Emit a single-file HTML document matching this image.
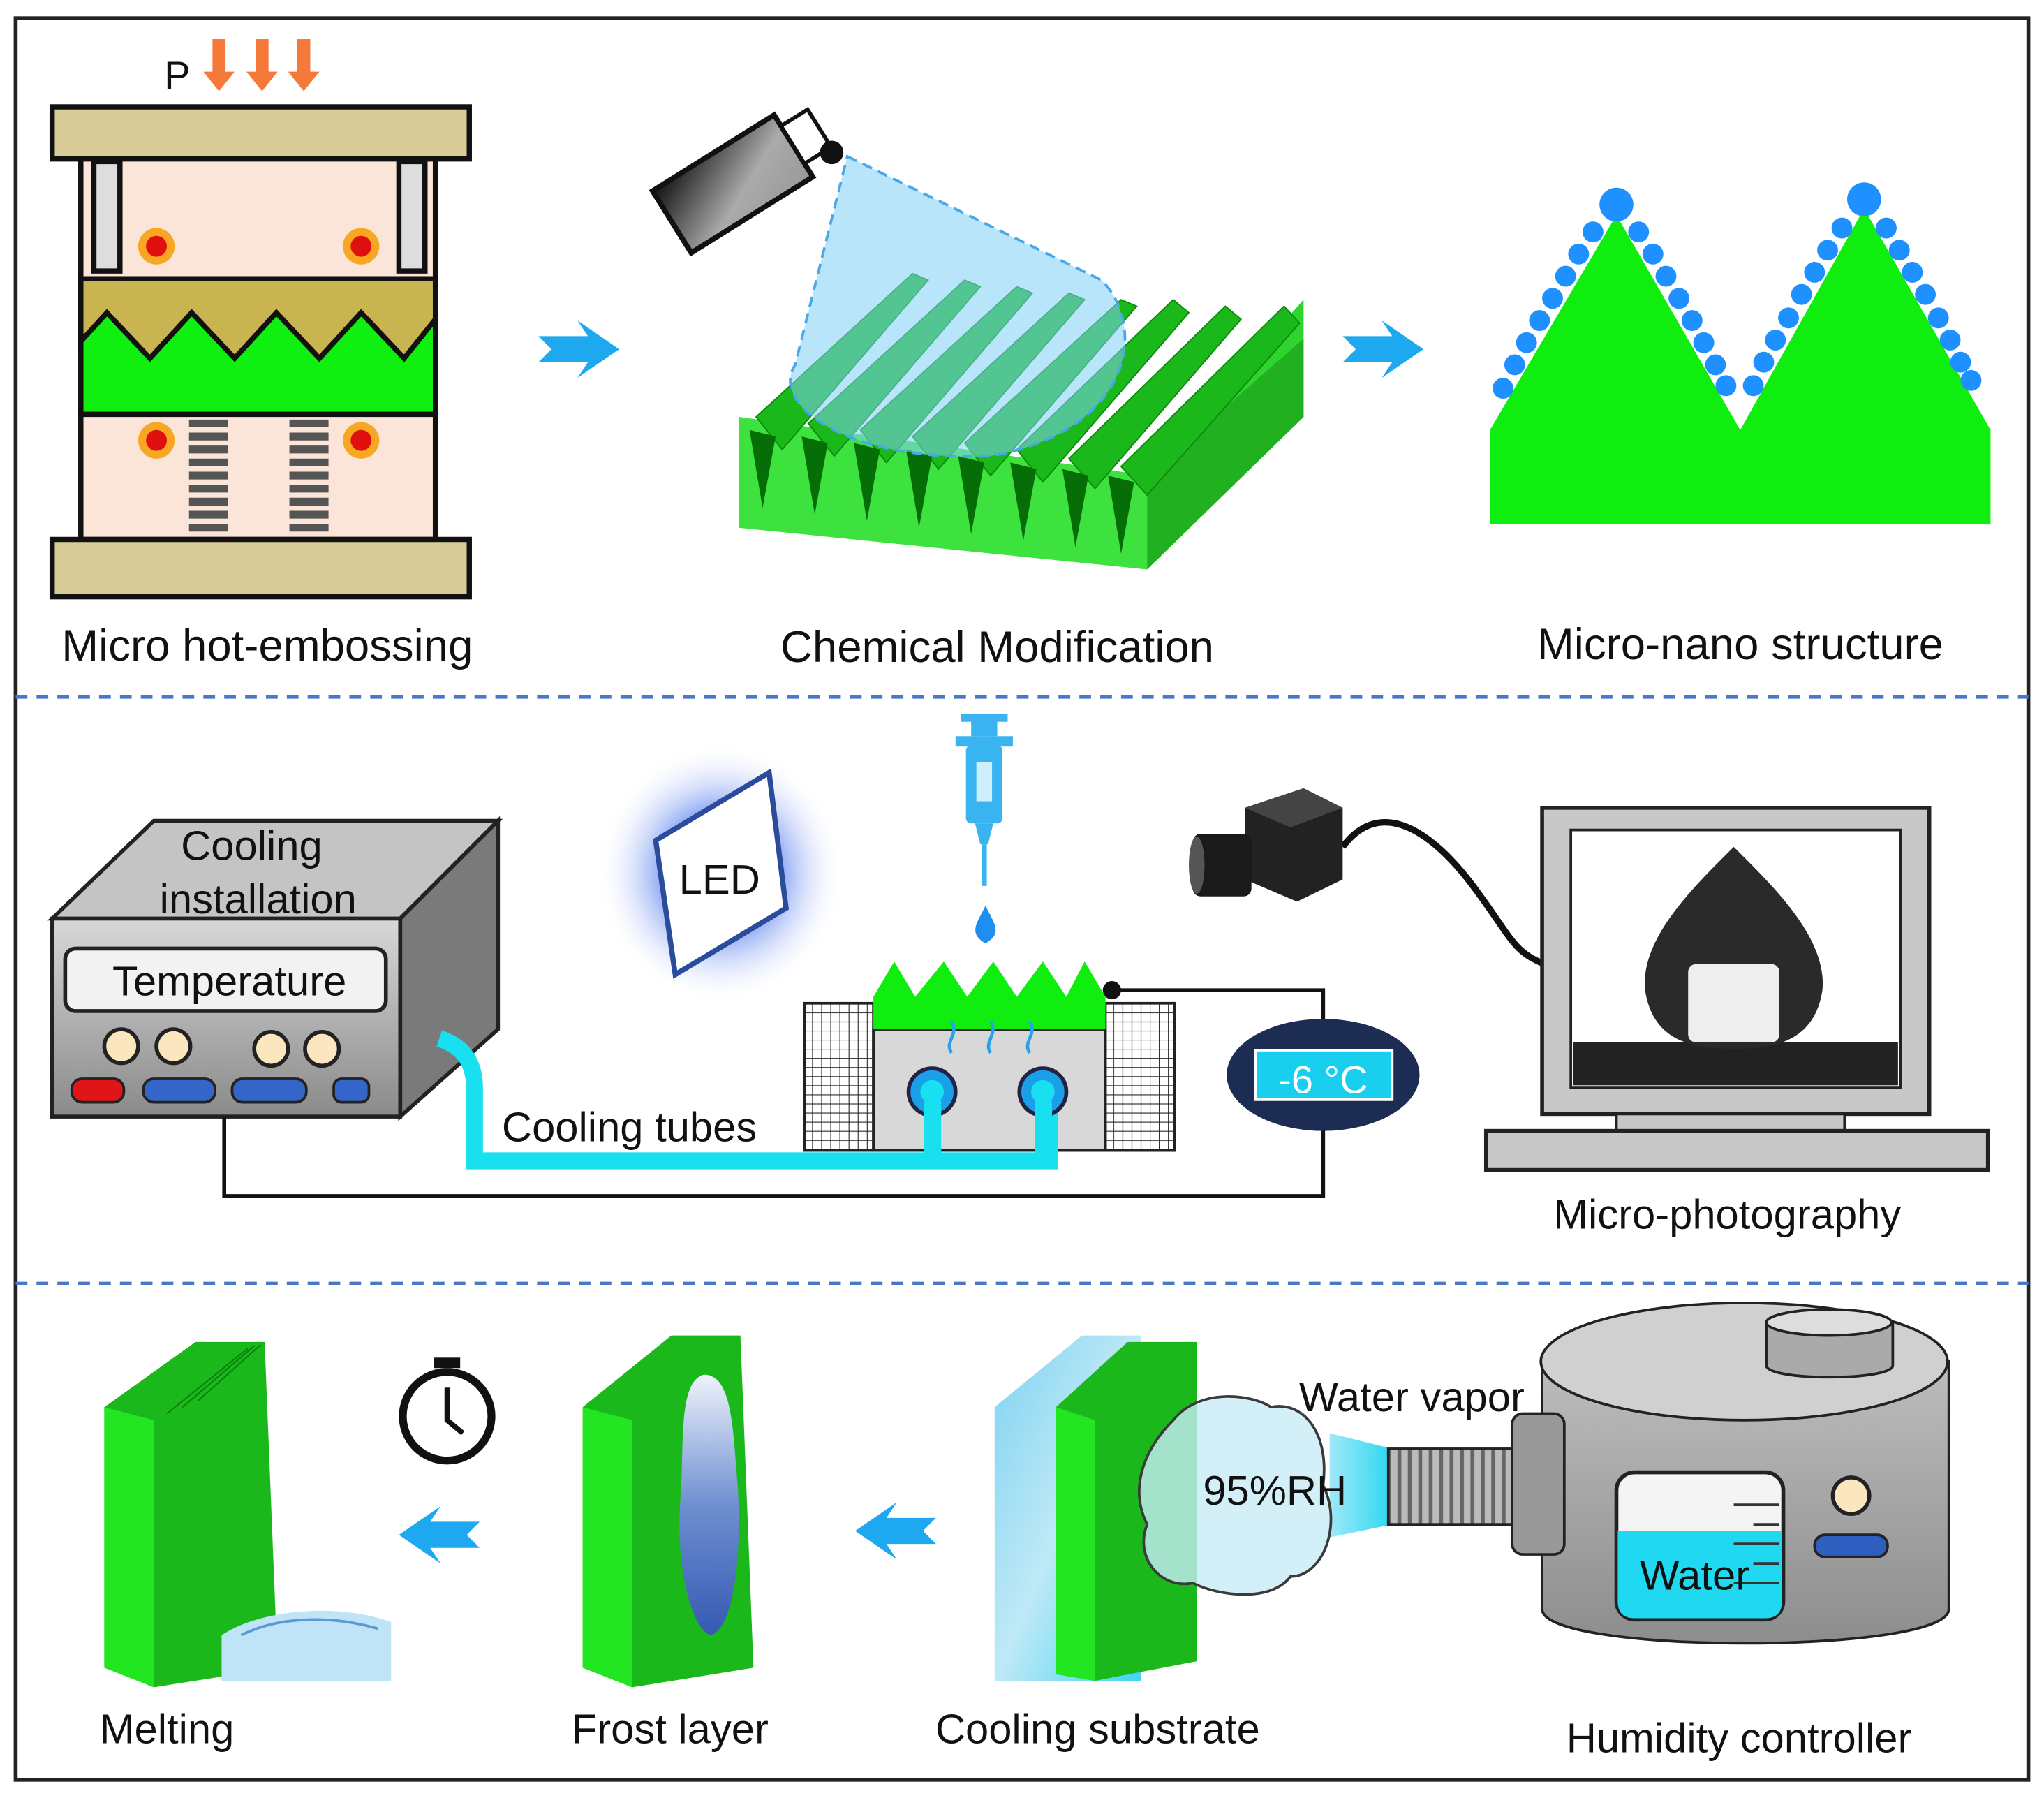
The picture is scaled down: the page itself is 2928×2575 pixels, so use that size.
<!DOCTYPE html>
<html><head><meta charset="utf-8"><style>
html,body{margin:0;padding:0;background:#fff}
svg{display:block}
text{font-family:"Liberation Sans",Arial,sans-serif;fill:#111}
</style></head><body>
<svg width="2928" height="2575" viewBox="0 0 1568 1380" preserveAspectRatio="none" xmlns="http://www.w3.org/2000/svg">
<defs>
<linearGradient id="gray" x1="0" y1="0" x2="0" y2="1"><stop offset="0" stop-color="#d8d8d8"/><stop offset="1" stop-color="#8a8a8a"/></linearGradient>
<linearGradient id="cam" x1="0" y1="0" x2="1" y2="1"><stop offset="0" stop-color="#111"/><stop offset="0.6" stop-color="#aaa"/><stop offset="1" stop-color="#999"/></linearGradient>
<linearGradient id="tank" x1="0" y1="0" x2="0" y2="1"><stop offset="0" stop-color="#bdbdbd"/><stop offset="1" stop-color="#8d8d8d"/></linearGradient>
<linearGradient id="glass" x1="0" y1="0" x2="1" y2="1"><stop offset="0" stop-color="#7fd3f0"/><stop offset="0.5" stop-color="#bfe9f7"/><stop offset="1" stop-color="#3fd6f0"/></linearGradient>
<linearGradient id="frost" x1="0" y1="0" x2="0" y2="1"><stop offset="0" stop-color="#eef3fb"/><stop offset="0.5" stop-color="#6f8fd0"/><stop offset="1" stop-color="#3559b4"/></linearGradient>
<linearGradient id="cone" x1="0" y1="0" x2="1" y2="0"><stop offset="0" stop-color="#a0e8f8"/><stop offset="1" stop-color="#2ad8f0"/></linearGradient>
<radialGradient id="glow"><stop offset="0.5" stop-color="#6a8cf0"/><stop offset="1" stop-color="#fff" stop-opacity="0"/></radialGradient>
<pattern id="grid" width="7" height="7" patternUnits="userSpaceOnUse"><rect width="7" height="7" fill="#fff"/><path d="M0 0H7M0 0V7" stroke="#222" stroke-width="1.2"/></pattern>
<pattern id="thread" width="8" height="60" patternUnits="userSpaceOnUse"><rect width="8" height="60" fill="#bbb"/><rect width="3" height="60" fill="#666"/></pattern>
</defs>
<rect x="0" y="0" width="1568" height="1380" fill="#fff"/>
<rect x="12" y="14" width="1544" height="1352" fill="none" stroke="#222" stroke-width="3"/>
<line x1="12" y1="535" x2="1556" y2="535" stroke="#4a78c8" stroke-width="2.5" stroke-dasharray="9,7"/>
<line x1="12" y1="985" x2="1556" y2="985" stroke="#4a78c8" stroke-width="2.5" stroke-dasharray="9,7"/>

<!-- PRESS -->
<text x="126" y="68" font-size="30">P</text>
<g fill="#f57a3a"><path d="M163 30h10v25h7l-12 15-12-15h7z"/><path d="M196 30h10v25h7l-12 15-12-15h7z"/><path d="M228 30h10v25h7l-12 15-12-15h7z"/></g>
<rect x="40" y="82" width="320" height="40" fill="#d8cc98" stroke="#111" stroke-width="4"/>
<rect x="62" y="122" width="272" height="92" fill="#fbe5d8" stroke="#111" stroke-width="4"/>
<rect x="72" y="124" width="20" height="84" fill="#ddd" stroke="#111" stroke-width="4"/>
<rect x="306" y="124" width="20" height="84" fill="#ddd" stroke="#111" stroke-width="4"/>
<rect x="62" y="214" width="272" height="104" fill="#10f010" stroke="#111" stroke-width="4"/>
<path d="M62 214H334V245L310 275 277 240 245 275 212 240 180 275 147 240 115 275 82 240 62 262Z" fill="#c8b450" stroke="#111" stroke-width="4"/>
<rect x="62" y="318" width="272" height="96" fill="#fbe5d8" stroke="#111" stroke-width="4"/>
<rect x="40" y="414" width="320" height="44" fill="#d8cc98" stroke="#111" stroke-width="4"/>
<g stroke="#555" stroke-width="6" fill="none">
<path d="M145 325h30M145 335h30M145 345h30M145 355h30M145 365h30M145 375h30M145 385h30M145 395h30M145 405h30"/>
<path d="M222 325h30M222 335h30M222 345h30M222 355h30M222 365h30M222 375h30M222 385h30M222 395h30M222 405h30"/>
</g>
<g><circle cx="120" cy="189" r="14" fill="#f7a722"/><circle cx="120" cy="189" r="8" fill="#e01010"/>
<circle cx="277" cy="189" r="14" fill="#f7a722"/><circle cx="277" cy="189" r="8" fill="#e01010"/>
<circle cx="120" cy="338" r="14" fill="#f7a722"/><circle cx="120" cy="338" r="8" fill="#e01010"/>
<circle cx="277" cy="338" r="14" fill="#f7a722"/><circle cx="277" cy="338" r="8" fill="#e01010"/></g>
<text x="205" y="507" font-size="34" text-anchor="middle">Micro hot-embossing</text>

<path d="M413 258h38l-8-12 32 22-32 22 8-12h-38l10-10z" fill="#1ea8ef"/>
<path d="M1030 258h38l-8-12 32 22-32 22 8-12h-38l10-10z" fill="#1ea8ef"/>

<!-- Chemical modification -->
<path d="M567 320L880 365 1000 230V320L880 437 567 405Z" fill="#2fd42f"/>
<path d="M880 365L1000 260V320L880 437Z" fill="#20b020"/>
<path d="M567 320L880 365V437L567 405Z" fill="#3ee23e"/>
<g fill="#1bb81b" stroke="#0c8a0c" stroke-width="1">
<path d="M580 320L700 210 712 215 600 345Z"/><path d="M620 325L740 215 752 220 640 350Z"/><path d="M660 330L780 220 792 225 680 355Z"/><path d="M700 335L820 225 832 230 720 360Z"/><path d="M740 340L860 230 872 235 760 365Z"/><path d="M780 345L900 230 912 240 800 370Z"/><path d="M820 352L940 235 952 245 840 375Z"/><path d="M860 358L985 235 997 248 880 380Z"/>
</g>
<g fill="#066e06"><path d="M575 330l10 60 10-55z"/><path d="M615 335l10 60 10-55z"/><path d="M655 340l10 60 10-55z"/><path d="M695 345l10 60 10-55z"/><path d="M735 350l10 60 10-55z"/><path d="M775 355l10 60 10-55z"/><path d="M815 360l10 60 10-55z"/><path d="M850 365l10 60 10-55z"/></g>
<path d="M650 120L845 215C880 250 870 330 760 350 650 355 590 310 610 280Z" fill="#7fcff5" fill-opacity="0.55" stroke="#4aa8e8" stroke-width="2" stroke-dasharray="8,5"/>
<g transform="rotate(-32 570 135)"><rect x="505" y="108" width="110" height="56" fill="url(#cam)" stroke="#111" stroke-width="4"/><rect x="615" y="118" width="24" height="34" fill="#fff" stroke="#111" stroke-width="3"/></g>
<circle cx="638" cy="117" r="9" fill="#111"/>
<text x="765" y="508" font-size="34" text-anchor="middle">Chemical Modification</text>

<!-- Micro-nano -->
<path d="M1143 402V330L1240 165 1335 330 1430 160 1527 330V402Z" fill="#10ee10"/>
<g fill="#1e90ff">
<circle cx="1240" cy="157" r="13"/><circle cx="1430" cy="153" r="13"/>
<circle cx="1222" cy="178" r="8"/><circle cx="1211" cy="195" r="8"/><circle cx="1201" cy="212" r="8"/><circle cx="1191" cy="229" r="8"/><circle cx="1181" cy="246" r="8"/><circle cx="1171" cy="263" r="8"/><circle cx="1162" cy="280" r="8"/><circle cx="1153" cy="298" r="8"/>
<circle cx="1257" cy="178" r="8"/><circle cx="1268" cy="195" r="8"/><circle cx="1278" cy="212" r="8"/><circle cx="1288" cy="229" r="8"/><circle cx="1298" cy="246" r="8"/><circle cx="1307" cy="263" r="8"/><circle cx="1316" cy="280" r="8"/><circle cx="1324" cy="296" r="8"/>
<circle cx="1413" cy="175" r="8"/><circle cx="1402" cy="192" r="8"/><circle cx="1392" cy="209" r="8"/><circle cx="1382" cy="226" r="8"/><circle cx="1372" cy="244" r="8"/><circle cx="1362" cy="261" r="8"/><circle cx="1353" cy="278" r="8"/><circle cx="1345" cy="296" r="8"/>
<circle cx="1447" cy="175" r="8"/><circle cx="1457" cy="192" r="8"/><circle cx="1467" cy="209" r="8"/><circle cx="1477" cy="226" r="8"/><circle cx="1487" cy="244" r="8"/><circle cx="1496" cy="261" r="8"/><circle cx="1504" cy="278" r="8"/><circle cx="1512" cy="292" r="8"/>
</g>
<text x="1335" y="506" font-size="34" text-anchor="middle">Micro-nano structure</text>

<!-- MIDDLE: cooling box -->
<path d="M40 705L118 630H382L307 705Z" fill="#c4c4c4" stroke="#222" stroke-width="3"/>
<path d="M307 705L382 630V790L307 857Z" fill="#7a7a7a" stroke="#222" stroke-width="3"/>
<rect x="40" y="705" width="267" height="152" fill="url(#gray)" stroke="#222" stroke-width="3"/>
<text x="193" y="660" font-size="32" text-anchor="middle">Cooling</text>
<text x="198" y="701" font-size="32" text-anchor="middle">installation</text>
<rect x="50" y="728" width="246" height="48" rx="8" fill="#f2f2f2" stroke="#222" stroke-width="3"/>
<text x="176" y="764" font-size="32" text-anchor="middle">Temperature</text>
<g fill="#fbe6c0" stroke="#222" stroke-width="3"><circle cx="93" cy="803" r="13"/><circle cx="133" cy="803" r="13"/><circle cx="208" cy="805" r="13"/><circle cx="247" cy="805" r="13"/></g>
<rect x="55" y="828" width="40" height="18" rx="8" fill="#e01515" stroke="#222" stroke-width="2"/>
<rect x="110" y="828" width="55" height="18" rx="8" fill="#3465c8" stroke="#222" stroke-width="2"/>
<rect x="178" y="828" width="57" height="18" rx="8" fill="#3465c8" stroke="#222" stroke-width="2"/>
<rect x="256" y="828" width="27" height="18" rx="6" fill="#3465c8" stroke="#222" stroke-width="2"/>

<!-- wires -->
<path d="M172 857V918H1015V865M853 760H1015V790" fill="none" stroke="#111" stroke-width="3"/>
<circle cx="853" cy="760" r="7" fill="#111"/>
<text x="385" y="876" font-size="32">Cooling tubes</text>

<!-- substrate -->
<rect x="617" y="770" width="53" height="113" fill="url(#grid)" stroke="#222" stroke-width="2"/>
<rect x="848" y="770" width="53" height="113" fill="url(#grid)" stroke="#222" stroke-width="2"/>
<rect x="670" y="790" width="178" height="93" fill="#d8d8d8" stroke="#222" stroke-width="2"/>
<path d="M670 790V765L686 738 702 765 724 738 742 765 762 738 780 765 800 738 818 765 832 738 848 765V790Z" fill="#10ee10"/>
<g stroke="#2aa0ee" stroke-width="2.5" fill="none"><path d="M730 808c-6-8 6-14 0-24M760 808c-6-8 6-14 0-24M790 808c-6-8 6-14 0-24"/></g>
<!-- tubes -->
<path d="M337 797C355 803 364 815 364 835V891H805V840M715 840V891" fill="none" stroke="#18e0f0" stroke-width="13"/>
<circle cx="715" cy="838" r="18" fill="#1aa0e8" stroke="#224" stroke-width="3"/><circle cx="800" cy="838" r="18" fill="#1aa0e8" stroke="#224" stroke-width="3"/>
<circle cx="715" cy="838" r="9" fill="#18e0f0"/><circle cx="800" cy="838" r="9" fill="#18e0f0"/>
<rect x="709" y="845" width="13" height="46" fill="#18e0f0"/><rect x="794" y="845" width="13" height="46" fill="#18e0f0"/>

<!-- LED -->
<ellipse cx="553" cy="670" rx="95" ry="100" fill="url(#glow)" opacity="0.7"/>
<path d="M503 645L590 593 603 697 518 748Z" fill="#fff" stroke="#2a4c9a" stroke-width="4"/>
<text x="552" y="686" font-size="32" text-anchor="middle">LED</text>
<!-- syringe -->
<rect x="741" y="572" width="28" height="60" rx="4" fill="#3ab4f0"/>
<rect x="733" y="565" width="44" height="8" fill="#3ab4f0"/><rect x="745" y="549" width="20" height="16" fill="#3ab4f0"/><rect x="737" y="548" width="36" height="6" fill="#3ab4f0"/>
<path d="M748 632h14l-4 16h-6z" fill="#3ab4f0"/><rect x="753" y="648" width="4" height="32" fill="#3ab4f0"/>
<rect x="749" y="585" width="12" height="30" fill="#cfefff"/>
<path d="M756 695C750 708 742 716 756 724 770 716 762 708 756 695Z" fill="#1e8ef0"/>

<!-- temp display -->
<ellipse cx="1015" cy="825" rx="74" ry="43" fill="#1c2c52"/>
<rect x="963" y="806" width="105" height="38" fill="#18d0ee" stroke="#fff" stroke-width="2"/>
<text x="1015" y="839" font-size="30" text-anchor="middle" style="fill:#fff">-6 °C</text>

<!-- camera -->
<path d="M1030 650C1060 610 1100 640 1130 680S1160 730 1185 740" fill="none" stroke="#111" stroke-width="5"/>
<path d="M955 620L1000 605 1030 620 1030 675 995 692 955 675Z" fill="#222"/>
<path d="M955 620L1000 605 1030 620 990 635Z" fill="#444"/>
<rect x="915" y="640" width="45" height="48" rx="6" fill="#1a1a1a"/>
<ellipse cx="918" cy="664" rx="6" ry="22" fill="#555"/>

<!-- monitor -->
<rect x="1183" y="620" width="297" height="235" fill="#c8c8c8" stroke="#222" stroke-width="3"/>
<rect x="1205" y="637" width="253" height="198" fill="#fff" stroke="#222" stroke-width="2"/>
<rect x="1207" y="800" width="249" height="33" fill="#222"/>
<path d="M1330 650C1300 680 1258 720 1262 760 1268 800 1300 805 1330 805 1360 805 1392 800 1398 760 1402 720 1360 680 1330 650Z" fill="#2a2a2a"/>
<rect x="1295" y="740" width="70" height="60" rx="6" fill="#eee"/>
<rect x="1240" y="855" width="175" height="13" fill="#c8c8c8" stroke="#222" stroke-width="2"/>
<rect x="1140" y="868" width="385" height="30" fill="#c8c8c8" stroke="#222" stroke-width="3"/>
<text x="1325" y="943" font-size="32" text-anchor="middle">Micro-photography</text>

<!-- BOTTOM stacks -->
<g>
<path d="M80 1080L150 1030H203L213 1280 118 1295 80 1280Z" fill="#1bb81b"/>
<path d="M80 1080L118 1090 118 1295 80 1280Z" fill="#22e622"/>
<g stroke="#0a7a0a" stroke-width="1"><path d="M128 1085L190 1035M140 1080L195 1033M152 1075L200 1032"/></g>
<path d="M170 1255C200 1235 260 1230 300 1245V1290H170Z" fill="#bfe3f7"/>
<path d="M185 1255C215 1240 255 1240 290 1250" stroke="#5a9ad8" stroke-width="2" fill="none"/>
</g>
<g>
<path d="M447 1080L515 1025H568L578 1280 485 1295 447 1280Z" fill="#1bb81b"/>
<path d="M447 1080L485 1090 485 1295 447 1280Z" fill="#22e622"/>
<path d="M540 1055C520 1060 525 1110 522 1150 518 1200 530 1250 545 1255 565 1250 570 1180 565 1130 562 1090 560 1055 540 1055Z" fill="url(#frost)"/>
</g>
<circle cx="343" cy="1087" r="34" fill="#fff" stroke="#111" stroke-width="6"/>
<rect x="333" y="1042" width="20" height="8" fill="#111"/><path d="M343 1065V1090L355 1100" stroke="#111" stroke-width="4" fill="none"/>
<path d="M368 1168h-38l8-12-32 22 32 22-8-12h38l-10-10z" fill="#1ea8ef"/>
<path d="M718 1165h-38l8-12-32 22 32 22-8-12h38l-10-10z" fill="#1ea8ef"/>

<path d="M763 1080L830 1025H875L875 1290H763Z" fill="url(#glass)"/>
<path d="M810 1080L865 1030H918L918 1275 840 1290 810 1285Z" fill="#1bb81b"/>
<path d="M810 1080L840 1090 840 1290 810 1285Z" fill="#22e622"/>
<path d="M1020 1100L1068 1112V1170L1020 1180Z" fill="url(#cone)"/>
<path d="M900 1090C920 1065 960 1070 975 1080 1000 1075 1020 1100 1015 1140 1030 1170 1015 1210 990 1210 975 1230 935 1225 915 1215 890 1220 870 1195 880 1170 865 1140 880 1110 900 1090Z" fill="#c8ecf8" fill-opacity="0.8" stroke="#3a3a3a" stroke-width="2"/>
<text x="978" y="1155" font-size="32" text-anchor="middle">95%RH</text>
<rect x="1065" y="1112" width="103" height="58" fill="url(#thread)" stroke="#222" stroke-width="2"/>
<text x="1083" y="1083" font-size="32" text-anchor="middle">Water vapor</text>

<!-- tank -->
<path d="M1183 1045V1235C1183 1270 1495 1270 1495 1235V1045Z" fill="url(#tank)" stroke="#222" stroke-width="2"/>
<ellipse cx="1338" cy="1045" rx="156" ry="45" fill="#d0d0d0" stroke="#222" stroke-width="2"/>
<rect x="1160" y="1085" width="40" height="108" rx="8" fill="#999" stroke="#222" stroke-width="2"/>
<path d="M1355 1015V1048C1355 1060 1452 1060 1452 1048V1015Z" fill="#aaa" stroke="#222" stroke-width="2"/>
<ellipse cx="1403" cy="1015" rx="48" ry="10" fill="#ddd" stroke="#222" stroke-width="2"/>
<rect x="1240" y="1130" width="128" height="113" rx="14" fill="#f4f4f4" stroke="#222" stroke-width="3"/>
<path d="M1241 1175H1367V1229Q1367 1242 1354 1242H1254Q1241 1242 1241 1229Z" fill="#20d8ef"/>
<path d="M1330 1155h35M1345 1170h20M1330 1185h35M1345 1200h20M1330 1215h35" stroke="#333" stroke-width="2"/>
<text x="1300" y="1220" font-size="32" text-anchor="middle">Water</text>
<circle cx="1420" cy="1148" r="14" fill="#fbe6c0" stroke="#222" stroke-width="3"/>
<rect x="1392" y="1178" width="56" height="17" rx="8" fill="#2e5ec0" stroke="#222" stroke-width="2"/>

<text x="128" y="1338" font-size="32" text-anchor="middle">Melting</text>
<text x="514" y="1338" font-size="32" text-anchor="middle">Frost layer</text>
<text x="842" y="1338" font-size="32" text-anchor="middle">Cooling substrate</text>
<text x="1334" y="1345" font-size="32" text-anchor="middle">Humidity controller</text>
</svg>
</body></html>
